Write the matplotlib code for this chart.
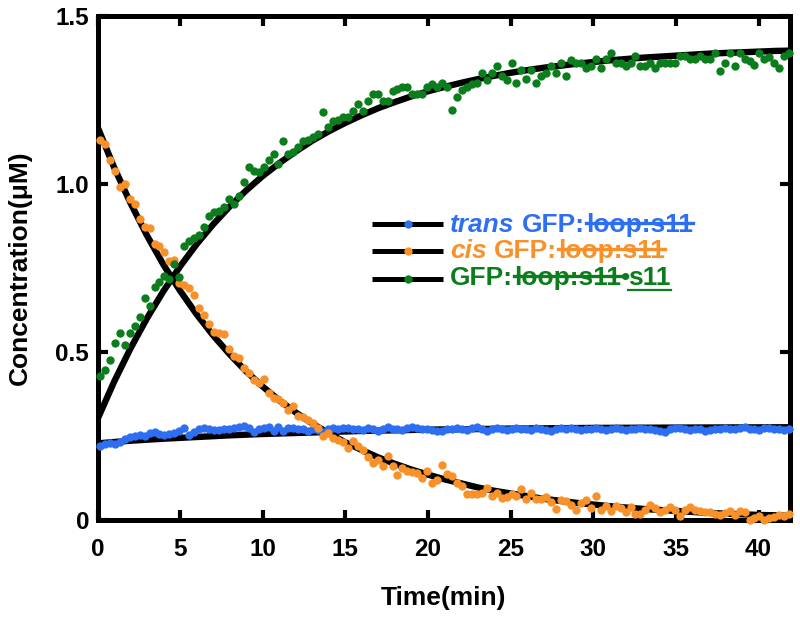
import numpy as np
import matplotlib
matplotlib.use("Agg")
import matplotlib.pyplot as plt
from matplotlib.lines import Line2D

plt.rcParams['font.family'] = ['Liberation Sans', 'DejaVu Sans']

# ---------------- data ----------------
n_pts = 140
time_pts = np.round(0.15 + 0.3 * np.arange(n_pts), 2)

trans_vals = [0.220, 0.226, 0.230, 0.226, 0.233, 0.240, 0.246, 0.250, 0.253, 0.250,
              0.258, 0.263, 0.256, 0.253, 0.256, 0.260, 0.266, 0.273, 0.253, 0.263,
              0.270, 0.273, 0.270, 0.268, 0.268, 0.270, 0.272, 0.273, 0.276, 0.280,
              0.273, 0.263, 0.270, 0.273, 0.276, 0.266, 0.278, 0.266, 0.273, 0.273,
              0.272, 0.270, 0.266, 0.270, 0.268, 0.263, 0.270, 0.273, 0.270, 0.273,
              0.273,
              0.270, 0.272, 0.268, 0.275, 0.270, 0.266, 0.271, 0.276, 0.272, 0.270,
              0.268, 0.273, 0.277, 0.274, 0.270, 0.272, 0.269, 0.266, 0.265, 0.270,
              0.272, 0.274, 0.271, 0.268, 0.273, 0.276, 0.270, 0.265, 0.271, 0.273,
              0.270, 0.268, 0.272, 0.274, 0.271, 0.270, 0.269, 0.273, 0.272, 0.268,
              0.266, 0.270, 0.273, 0.271, 0.274, 0.270, 0.267, 0.272, 0.270, 0.273,
              0.271, 0.269, 0.272, 0.274, 0.270, 0.268, 0.272, 0.271, 0.273, 0.270,
              0.272, 0.269, 0.266, 0.262, 0.270, 0.273, 0.275, 0.271, 0.268, 0.272,
              0.270, 0.264, 0.268, 0.272, 0.270, 0.274, 0.271, 0.270, 0.273, 0.276,
              0.272, 0.270, 0.269, 0.273, 0.275, 0.272, 0.270, 0.268, 0.271]

cis_vals = [1.13, 1.12, 1.07, 1.04, 0.99, 1.00, 0.955, 0.94, 0.895, 0.873,
            0.87, 0.82, 0.816, 0.797, 0.772, 0.774, 0.705, 0.70, 0.69, 0.67,
            0.631, 0.61, 0.583, 0.56, 0.557, 0.555, 0.509, 0.488, 0.482, 0.452,
            0.437, 0.417, 0.408, 0.42, 0.378, 0.363, 0.36, 0.348, 0.327, 0.339,
            0.31, 0.307, 0.298, 0.29, 0.274, 0.25, 0.258, 0.244, 0.238, 0.233,
            0.214, 0.235, 0.22, 0.208, 0.187, 0.17, 0.179, 0.16, 0.19, 0.16,
            0.134, 0.155, 0.146, 0.143, 0.14, 0.125, 0.146, 0.11, 0.12, 0.164,
            0.137, 0.131, 0.11, 0.101, 0.077, 0.077, 0.077, 0.08, 0.095, 0.071,
            0.08, 0.065, 0.068, 0.077, 0.071, 0.092, 0.062, 0.08, 0.062, 0.062,
            0.068, 0.054, 0.033, 0.06, 0.056, 0.045, 0.03, 0.051, 0.06, 0.036,
            0.071, 0.03, 0.042, 0.027, 0.042, 0.036, 0.025, 0.04, 0.018, 0.018,
            0.03, 0.045, 0.036, 0.025, 0.03, 0.04, 0.03, 0.012, 0.03, 0.04,
            0.03, 0.028, 0.025, 0.025, 0.018, 0.015, 0.02, 0.028, 0.015, 0.028,
            0.025, 0.0, 0.006, 0.012, 0.0, 0.006, 0.008, 0.016, 0.012, 0.018]

bound_vals = [0.43, 0.446, 0.476, 0.527, 0.557, 0.52, 0.557, 0.577, 0.604, 0.66,
              0.637, 0.693, 0.708, 0.726, 0.717, 0.762, 0.723, 0.815, 0.83, 0.839,
              0.848, 0.872, 0.905, 0.917, 0.92, 0.932, 0.955, 0.94, 0.964, 1.006,
              1.05, 1.039, 1.036, 1.05, 1.07, 1.089, 1.06, 1.128, 1.089, 1.095,
              1.11, 1.128, 1.131, 1.14, 1.149, 1.214, 1.17, 1.188, 1.19, 1.2,
              1.2, 1.217, 1.238, 1.217, 1.247, 1.268, 1.268, 1.247, 1.247, 1.277,
              1.283, 1.289, 1.289, 1.268, 1.268, 1.268, 1.289, 1.298, 1.29, 1.30,
              1.29, 1.22, 1.259, 1.28, 1.289, 1.298, 1.30, 1.33, 1.31, 1.33,
              1.351, 1.32, 1.31, 1.36, 1.30, 1.34, 1.313, 1.34, 1.30, 1.32,
              1.33, 1.35, 1.33, 1.36, 1.32, 1.369, 1.36, 1.36, 1.345, 1.35,
              1.372, 1.345, 1.372, 1.39, 1.36, 1.36, 1.35, 1.36, 1.381, 1.35,
              1.35, 1.36, 1.345, 1.36, 1.36, 1.36, 1.36, 1.381, 1.381, 1.372,
              1.372, 1.38, 1.372, 1.372, 1.39, 1.336, 1.36, 1.39, 1.35, 1.39,
              1.372, 1.365, 1.355, 1.39, 1.372, 1.378, 1.36, 1.345, 1.38, 1.39]

fit_t = list(range(43))
cis_fit = [1.170, 1.050, 0.943, 0.846, 0.759, 0.682, 0.612, 0.549, 0.493, 0.442,
           0.397, 0.356, 0.320, 0.287, 0.258, 0.231, 0.208, 0.186, 0.167, 0.150,
           0.135, 0.121, 0.109, 0.097, 0.087, 0.079, 0.071, 0.063, 0.057, 0.051,
           0.046, 0.041, 0.037, 0.033, 0.030, 0.027, 0.024, 0.021, 0.019, 0.017,
           0.015, 0.014, 0.012]
bound_fit = [0.300, 0.411, 0.511, 0.601, 0.682, 0.755, 0.821, 0.880, 0.933, 0.981,
             1.024, 1.062, 1.097, 1.129, 1.157, 1.182, 1.205, 1.226, 1.244, 1.261,
             1.276, 1.289, 1.301, 1.312, 1.322, 1.331, 1.339, 1.346, 1.352, 1.358,
             1.363, 1.368, 1.372, 1.376, 1.379, 1.382, 1.385, 1.388, 1.390, 1.392,
             1.394, 1.396, 1.397]
trans_fit_t = [0, 2, 4, 6, 8, 10, 12, 14, 16, 18, 20, 22, 25, 30, 35, 42]
trans_fit = [0.228, 0.236, 0.242, 0.247, 0.252, 0.256, 0.259, 0.262, 0.265,
             0.267, 0.269, 0.270, 0.272, 0.274, 0.275, 0.276]

x_ticks = [0, 5, 10, 15, 20, 25, 30, 35, 40]
y_ticks = [0, 0.5, 1.0, 1.5]
y_ticklabels = ['0', '0.5', '1.0', '1.5']

c_blue = '#2e6ff2'
c_orange = '#f8912a'
c_green = '#0c7d1c'

# ---------------- figure ----------------
W, H = 800, 617
fig = plt.figure(figsize=(W / 100, H / 100), dpi=100)
ax = fig.add_axes([97.5 / W, 1 - 520 / H, (790 - 97.5) / W, (520 - 16) / H])

for t, v in ((trans_fit_t, trans_fit), (fit_t, cis_fit), (fit_t, bound_fit)):
    ax.plot(t, v, color='black', lw=4.6, zorder=2, solid_capstyle='butt')

for v, c in ((trans_vals, c_blue), (cis_vals, c_orange), (bound_vals, c_green)):
    ax.plot(time_pts, v, linestyle='none', marker='o', ms=6.0, color=c,
            mec=c, mew=0, zorder=3, clip_on=False)

ax.set_xlim(0, 41.9)
ax.set_ylim(0, 1.5)
ax.set_xticks(x_ticks)
ax.set_yticks(y_ticks)
ax.set_yticklabels(y_ticklabels)
for s in ax.spines.values():
    s.set_linewidth(3.6)
ax.tick_params(direction='in', length=7.5, width=3, top=True, right=True,
               labelsize=17.5)
ax.tick_params(axis='x', pad=13)
ax.tick_params(axis='y', pad=6)
for lab in ax.get_xticklabels() + ax.get_yticklabels():
    lab.set_fontweight('bold')
ax.set_xlabel('Time(min)', fontsize=19, fontweight='bold', labelpad=18)
ax.set_ylabel('Concentration(\u03bcM)', fontsize=19, fontweight='bold', labelpad=17)

# ---------------- custom legend ----------------
renderer = fig.canvas.get_renderer()
FS = 19
em = FS * 100 / 72.0


def fx(x):
    return x / W


def fy(y):
    return 1 - y / H


def handle(yc, color):
    fig.add_artist(Line2D([fx(372), fx(443)], [fy(yc), fy(yc)], color='black',
                          lw=3.6, transform=fig.transFigure, solid_capstyle='butt'))
    fig.add_artist(Line2D([fx(408)], [fy(yc)], color=color, marker='o', ms=6.0,
                          mew=0, linestyle='none', transform=fig.transFigure))


def row(x0, base, pieces, color):
    x = x0
    for txt, style, deco, gap in pieces:
        t = fig.text(fx(x), fy(base), txt, color=color, fontsize=FS,
                     fontweight='bold', fontstyle=style, ha='left', va='baseline')
        bb = t.get_window_extent(renderer)
        w = bb.width
        if deco == 'strike':
            ys = base - 0.34 * em
            fig.add_artist(Line2D([fx(x), fx(x + w)], [fy(ys), fy(ys)], color=color,
                                  lw=2.4, transform=fig.transFigure))
        elif deco == 'under':
            ys = base + 0.2 * em
            fig.add_artist(Line2D([fx(x), fx(x + w)], [fy(ys), fy(ys)], color=color,
                                  lw=1.6, transform=fig.transFigure))
        x = x + w + gap


rows_base = [232, 258, 285]
handle(224, c_blue)
handle(251, c_orange)
handle(279, c_green)
sp = 0.278 * em
row(450, rows_base[0], [('trans', 'italic', None, sp),
                        ('GFP:', 'normal', None, 1.0),
                        ('loop:s11', 'normal', 'strike', 0)], c_blue)
row(450, rows_base[1], [('cis', 'italic', None, sp),
                        ('GFP:', 'normal', None, 1.0),
                        ('loop:s11', 'normal', 'strike', 0)], c_orange)
row(450, rows_base[2], [('GFP:', 'normal', None, 1.0),
                        ('loop:s11', 'normal', 'strike', -1),
                        ('\u2022', 'normal', None, -1),
                        ('s11', 'normal', 'under', 0)], c_green)

fig.savefig('out.png', dpi=100)
